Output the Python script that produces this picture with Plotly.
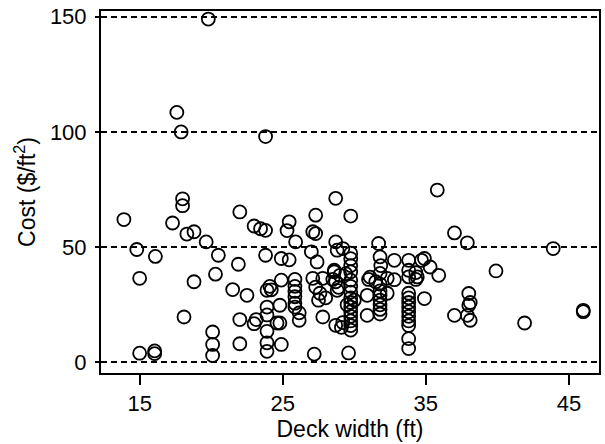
import plotly.graph_objects as go

# Deck width (ft) and unit cost ($/ft^2) per bridge
deck_width = [
    13.9, 14.8, 15.0, 15.0, 16.05, 16.05, 16.1, 17.3, 17.6, 17.9, 18.0, 18.0,
    18.1, 18.3, 18.8, 18.8, 19.65, 19.8, 20.1, 20.1, 20.1, 20.3, 20.5,
    21.5, 21.9, 22.0, 22.0, 22.0, 22.5, 23.0, 23.15, 23.0, 23.45, 23.8,
    23.8, 23.8, 23.9, 24.1, 24.2, 23.9, 23.9, 23.9, 23.9, 23.9,
    24.6, 24.8, 24.8, 24.9, 24.9, 24.9, 25.45, 25.45, 25.3, 25.9,
    25.85, 25.85, 25.85, 25.85, 25.85, 25.85, 26.15, 26.15,
    27.0, 27.3, 27.1, 27.3, 27.4, 27.1, 27.3, 27.8, 27.5, 27.8, 27.2, 27.6, 28.0,
    28.7, 28.7, 28.8, 29.2, 28.6, 29.0, 29.4, 28.7, 28.8, 28.6, 28.7, 29.1, 28.9, 28.5, 29.2,
    29.75, 29.75, 29.75, 29.75, 29.75, 29.75, 29.75, 29.75, 29.75, 29.75,
    29.75, 29.75, 29.75, 29.75, 29.75, 29.75, 29.6, 29.5, 30.0,
    30.9, 30.9, 31.1, 31.0, 31.5,
    31.7, 31.8, 31.85, 31.8, 31.8, 31.8, 31.8, 31.8, 31.8, 31.8, 31.8,
    32.3, 32.8, 32.8, 32.3,
    33.8, 33.8, 33.8, 33.8, 33.8, 33.8, 33.8, 33.8, 33.8, 33.8, 33.8, 33.8, 33.8,
    34.4, 34.7, 34.3, 34.3,
    34.9, 35.3, 35.9, 34.9, 35.8,
    37.0, 37.9, 39.9, 38.0, 38.0, 37.0, 37.9, 38.1, 38.1,
    41.9, 43.9, 46.0, 46.0,
]
cost = [
    62.0, 49.0, 36.5, 4.0, 5.0, 3.8, 46.0, 60.5, 108.5, 100.0, 71.0, 68.0,
    19.7, 55.7, 56.7, 35.0, 52.3, 149.0, 13.2, 7.8, 3.0, 38.3, 46.5,
    31.6, 42.6, 65.3, 18.6, 8.1, 29.1, 16.8, 18.6, 59.2, 58.0, 57.3,
    98.0, 46.5, 31.3, 33.0, 31.5, 24.0, 20.6, 13.5, 8.5, 4.8,
    17.1, 17.1, 24.8, 35.7, 7.8, 45.1, 44.5, 61.0, 57.2, 52.3,
    36.0, 33.0, 30.8, 28.5, 25.7, 24.0, 21.5, 18.3,
    48.0, 63.9, 56.7, 55.9, 43.6, 36.5, 32.7, 36.5, 27.0, 19.7, 3.6, 30.0, 28.0,
    71.2, 52.3, 48.7, 49.4, 39.3, 37.8, 38.5, 35.0, 31.3, 40.0, 16.1, 15.2, 32.6, 36.0, 17.3,
    63.5, 47.4, 45.0, 42.0, 39.3, 35.7, 33.0, 30.5, 28.0, 26.0,
    24.0, 22.0, 20.0, 18.0, 16.0, 14.0, 4.1, 25.0, 27.0,
    29.1, 20.4, 37.0, 36.0, 35.0,
    51.6, 45.8, 42.0, 38.6, 34.0, 31.0, 29.0, 27.0, 25.0, 23.0, 21.0,
    36.5, 44.3, 35.9, 30.0,
    44.3, 40.0, 37.1, 30.0, 28.0, 26.0, 24.0, 22.0, 20.0, 18.0, 16.0, 10.3, 6.0,
    37.1, 44.3, 39.0, 36.0,
    45.1, 41.4, 37.8, 27.7, 74.8,
    56.2, 51.9, 39.7, 29.9, 24.8, 20.4, 20.4, 18.3, 26.0,
    17.1, 49.4, 22.6, 22.0,
]

x_ticks = [15, 25, 35, 45]
y_ticks = [0, 50, 100, 150]

font_family = "Liberation Sans, Arial, sans-serif"

fig = go.Figure(
    go.Scatter(
        x=deck_width,
        y=cost,
        mode="markers",
        marker=dict(
            symbol="circle-open",
            size=13,
            color="black",
            line=dict(color="black", width=1.8),
        ),
        hoverinfo="x+y",
    )
)

fig.update_layout(
    width=605,
    height=444,
    margin=dict(l=101, r=4, t=11, b=71),
    paper_bgcolor="white",
    plot_bgcolor="white",
    showlegend=False,
    font=dict(family=font_family, size=22, color="black"),
)

fig.update_xaxes(
    range=[12.3, 47.1],
    tickmode="array",
    tickvals=x_ticks,
    ticktext=[str(v) for v in x_ticks],
    ticks="outside",
    ticklen=10,
    tickwidth=1.5,
    tickcolor="black",
    showgrid=False,
    zeroline=False,
    showline=True,
    linecolor="black",
    linewidth=2,
    mirror=True,
    title=dict(text="Deck width (ft)", standoff=4, font=dict(size=23)),
    tickfont=dict(size=22),
)

fig.update_yaxes(
    range=[-4.6, 152.5],
    tickmode="array",
    tickvals=y_ticks,
    ticktext=[str(v) for v in y_ticks],
    ticks="outside",
    ticklen=4,
    tickwidth=1.5,
    tickcolor="black",
    ticklabelstandoff=4,
    showgrid=True,
    gridcolor="black",
    gridwidth=1.5,
    griddash="6px,4px",
    zeroline=False,
    showline=True,
    linecolor="black",
    linewidth=2,
    mirror=True,
    title=dict(text="Cost ($/ft<sup>2</sup>)", standoff=8, font=dict(size=23)),
    tickfont=dict(size=22),
)

fig.write_html("out.html")
